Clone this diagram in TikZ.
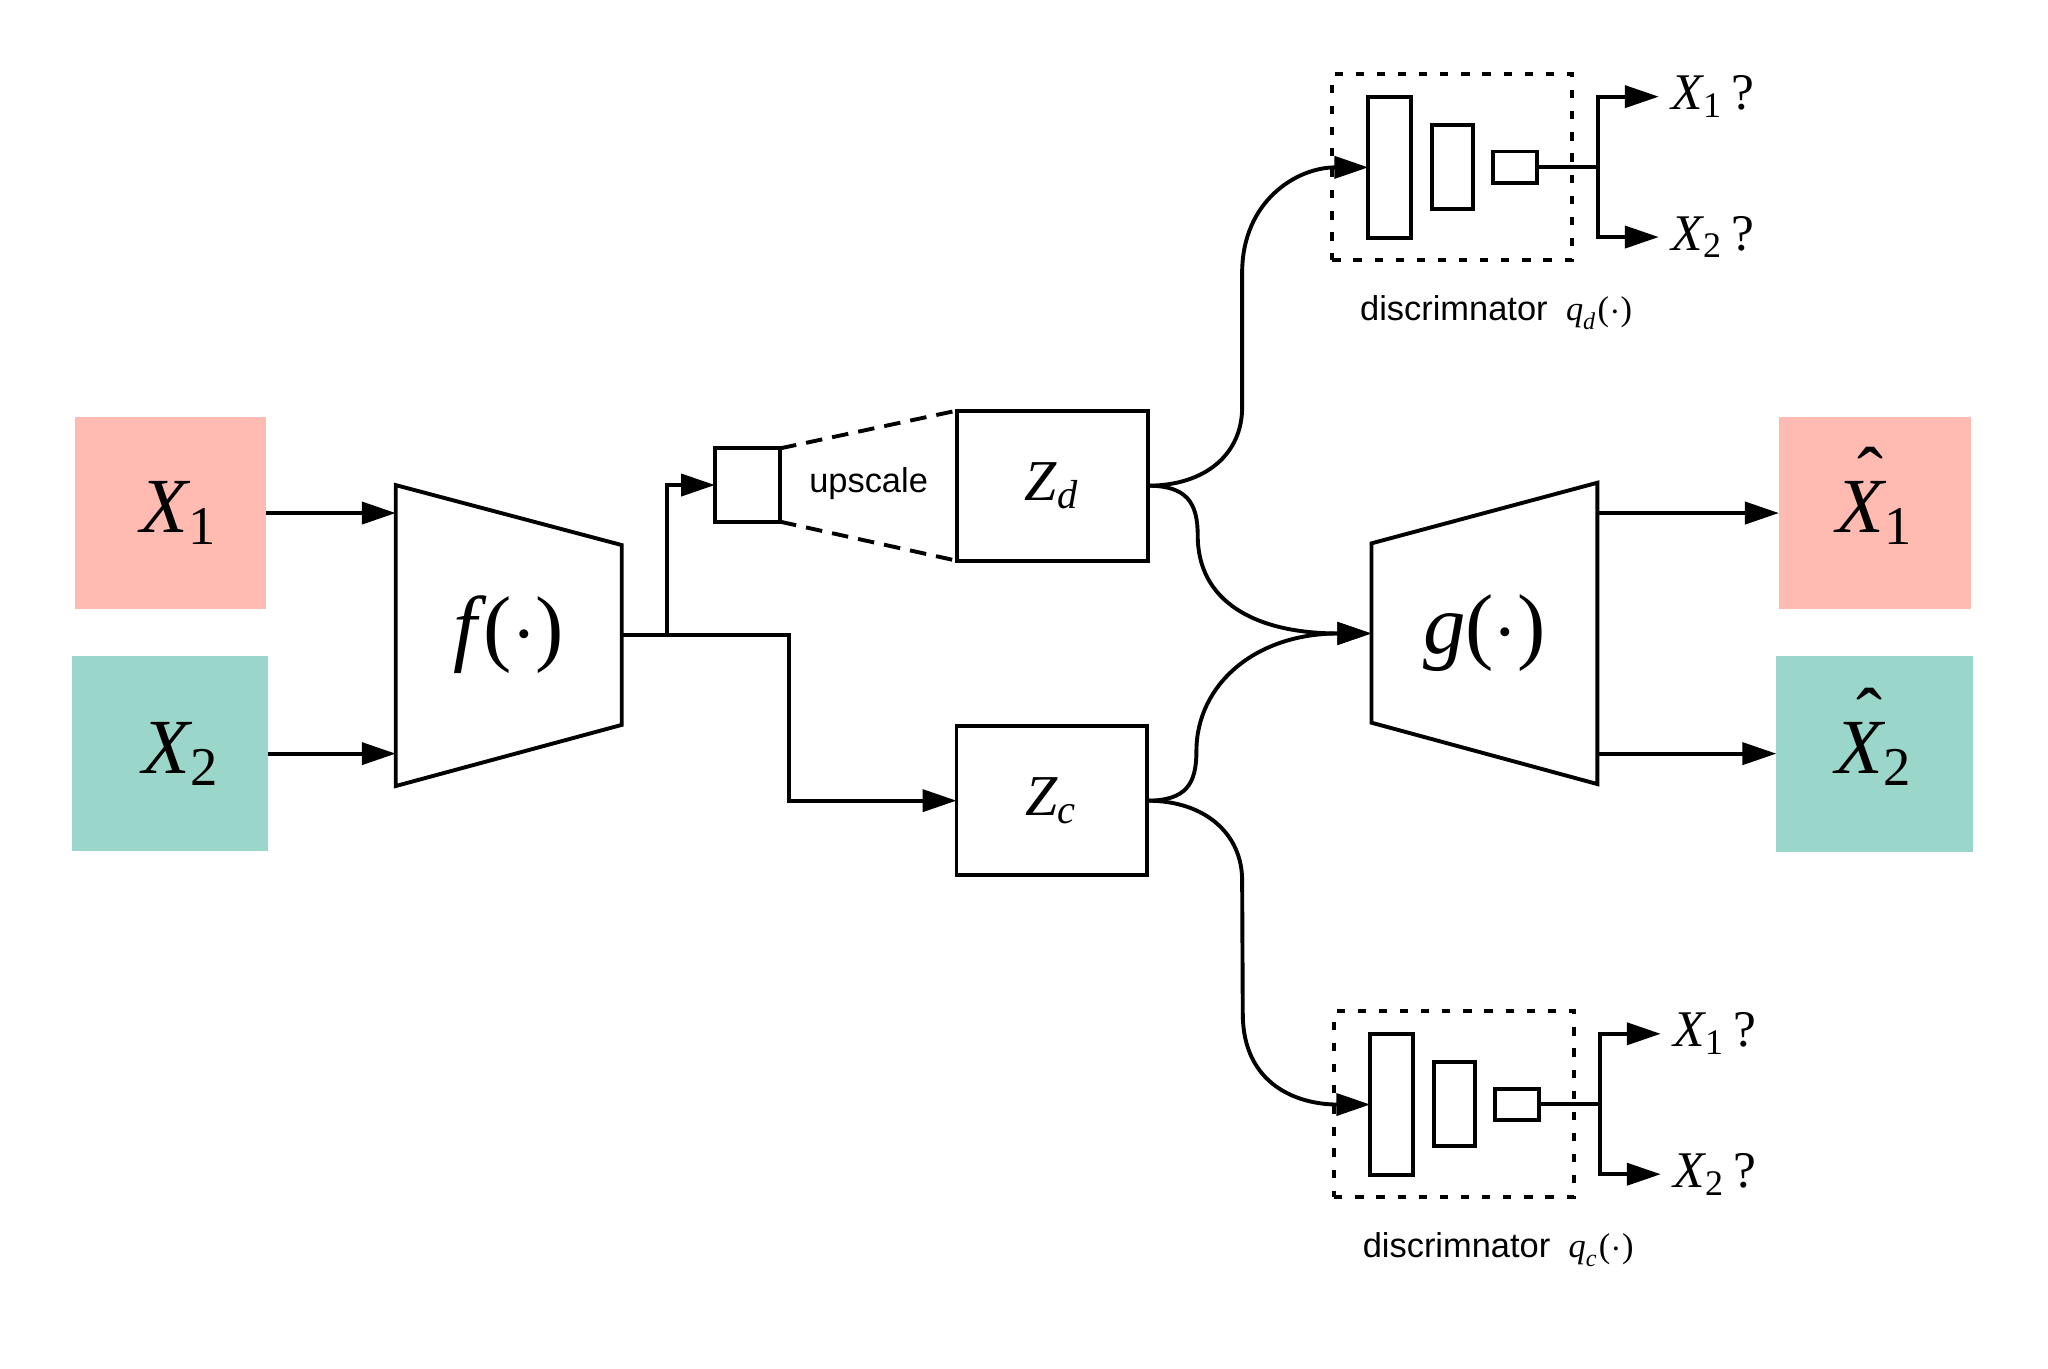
\RequirePackage{fix-cm}
\documentclass[tikz,border=0pt]{standalone}
\usepackage{amsmath,amssymb}
\usepackage{fontspec}
\setsansfont{Liberation Sans}
\newfontfamily\tms{Liberation Serif}
\newcommand\tmi[1]{\text{\tms\itshape #1}}
\newcommand\tmr[1]{\text{\tms #1}}
\newcommand\tdot{\tmr{(}{\cdot}\tmr{)}}
\newcommand\hatx{\ooalign{X\cr\hidewidth\kern0.26em\raisebox{0.40em}{\upshape\char"02C6}\hidewidth\cr}}
\usetikzlibrary{arrows.meta}
\definecolor{pinkbox}{RGB}{255,187,177}
\definecolor{tealbox}{RGB}{154,214,202}
\tikzset{
  ln/.style={line width=0.85pt},
  ar/.style={ln,-{Triangle[length=7.4pt,width=4.8pt]}},
  datbox/.style={inner sep=0pt,outer sep=0pt,font=\fontsize{17}{20}\selectfont},
  zbox/.style={draw,ln,inner sep=0pt,outer sep=0pt,font=\fontsize{12.6}{15}\selectfont},
  layer/.style={draw,ln,inner sep=0pt,outer sep=0pt},
  dbox/.style={draw,line width=0.9pt,dash pattern=on 1.8pt off 2.8pt,inner sep=0pt},
  upd/.style={ln,dash pattern=on 3.6pt off 2.2pt},
  netl/.style={font=\fontsize{18.5}{22}\selectfont},
  outl/.style={inner xsep=2.6pt,inner ysep=0pt,font=\fontsize{11.2}{13}\selectfont},
  sans/.style={inner sep=0pt,font=\fontsize{7.5}{9}\selectfont\sffamily},
}

\begin{document}
\begin{tikzpicture}[x=1cm,y=-1cm]
  \useasboundingbox (0,0) rectangle (15.68,10.48);

  % inputs and reconstructions
  \node[datbox,fill=pinkbox,minimum width=1.465cm,minimum height=1.47cm] (x1) at (1.303,3.928) {\kern4pt$\tmi{X}_{\tmr{1}}$};
  \node[datbox,fill=tealbox,minimum width=1.503cm,minimum height=1.497cm] (x2) at (1.301,5.77) {\kern5pt$\tmi{X}_{\tmr{2}}$};
  \node[datbox,fill=pinkbox,minimum width=1.47cm,minimum height=1.47cm] (xh1) at (14.355,3.928) {$\tmi{\hatx}_{\tmr{1}}$};
  \node[datbox,fill=tealbox,minimum width=1.504cm,minimum height=1.5cm] (xh2) at (14.352,5.77) {$\tmi{\hatx}_{\tmr{2}}$};

  % encoder f and decoder g
  \node[netl] (f) at (3.895,4.86) {$\tmi{f\kern1.5pt}\tdot$};
  \draw[ln] (3.03,3.714) -- (4.76,4.173) -- (4.76,5.55) -- (3.03,6.018) -- cycle;
  \coordinate (fin) at (3.03,4.865);
  \coordinate (fout) at (4.76,4.865);
  \node[netl] (g) at (11.365,4.85) {$\tmi{g}\tdot$};
  \draw[ln] (10.5,4.16) -- (12.23,3.696) -- (12.23,6.003) -- (10.5,5.533) -- cycle;
  \coordinate (gin) at (10.5,4.85);
  \coordinate (gout) at (12.23,4.85);

  % latent codes
  \node[layer,minimum width=0.498cm,minimum height=0.561cm] (up) at (5.723,3.7135) {};
  \node[sans] (upl) at (6.65,3.70) {upscale};
  \node[zbox,minimum width=1.462cm,minimum height=1.149cm] (zd) at (8.056,3.7185) {$\tmi{Z}_{\tmi{d}}$};
  \node[zbox,minimum width=1.46cm,minimum height=1.141cm] (zc) at (8.053,6.13) {$\tmi{Z}_{\tmi{c}}$};
  \draw[upd] (up.north east) -- (zd.north west);
  \draw[upd] (up.south east) -- (zd.south west);

  % discriminators
  \foreach \dx/\dy/\s in {0/0/d,0.015/7.175/c} {
    \begin{scope}[shift={(\dx,\dy)}]
      \node[dbox,minimum width=1.835cm,minimum height=1.423cm] (disc\s) at (11.1175,1.2785) {};
      \node[layer,minimum width=0.328cm,minimum height=1.083cm] (big\s) at (10.64,1.2815) {};
      \node[layer,minimum width=0.318cm,minimum height=0.643cm] (mid\s) at (11.121,1.2785) {};
      \node[layer,minimum width=0.337cm,minimum height=0.24cm] (sml\s) at (11.5985,1.28) {};
      \coordinate (br\s) at (12.236,1.28);
      \node[outl,anchor=west] (o1\s) at (12.70,0.74) {$\tmi{X}_{\tmr{1}}\,\tmr{?}$};
      \node[outl,anchor=west] (o2\s) at (12.70,1.815) {$\tmi{X}_{\tmr{2}}\,\tmr{?}$};
      \node[sans,anchor=base] (lbl\s) at (11.455,2.45) {discrimnator\hspace{4pt}$\tmi{q}_{\tmi{\s}}\tdot$};
      \draw[ln] (sml\s) -- (br\s);
      \draw[ar] (br\s) |- (o1\s);
      \draw[ar] (br\s) |- (o2\s);
    \end{scope}
  }

  \draw[ar] (x1) -- (x1 -| fin);
  \draw[ar] (x2) -- (x2 -| fin);
  \draw[ar] (fout) -- ++(0.35,0) |- (up);
  \draw[ar] (fout) -- ++(1.28,0) |- (zc);
  \draw[ar] (zd.east) .. controls +(0.45,0) and +(0,0.35) .. (9.51,3.12) -- (9.51,2.09)
    .. controls +(0,-0.55) and +(-0.55,0) .. (bigd.west);
  \draw[ar] (zd.east) .. controls +(0.3,0) and +(0,-0.25) .. (9.17,4.10)
    .. controls +(0,0.5) and +(-0.9,0) .. (gin);
  \draw[ar] (zc.east) .. controls +(0.3,0) and +(0,0.25) .. (9.16,5.75)
    .. controls +(0,-0.5) and +(-0.9,0) .. (gin);
  \draw[ar] (zc.east) .. controls +(0.45,0) and +(0,-0.35) .. (9.51,6.74) -- (9.515,7.76)
    .. controls +(0,0.55) and +(-0.55,0) .. (bigc.west);
  \draw[ar] (gout |- xh1) -- (xh1);
  \draw[ar] (gout |- xh2) -- (xh2);
\end{tikzpicture}
\end{document}
